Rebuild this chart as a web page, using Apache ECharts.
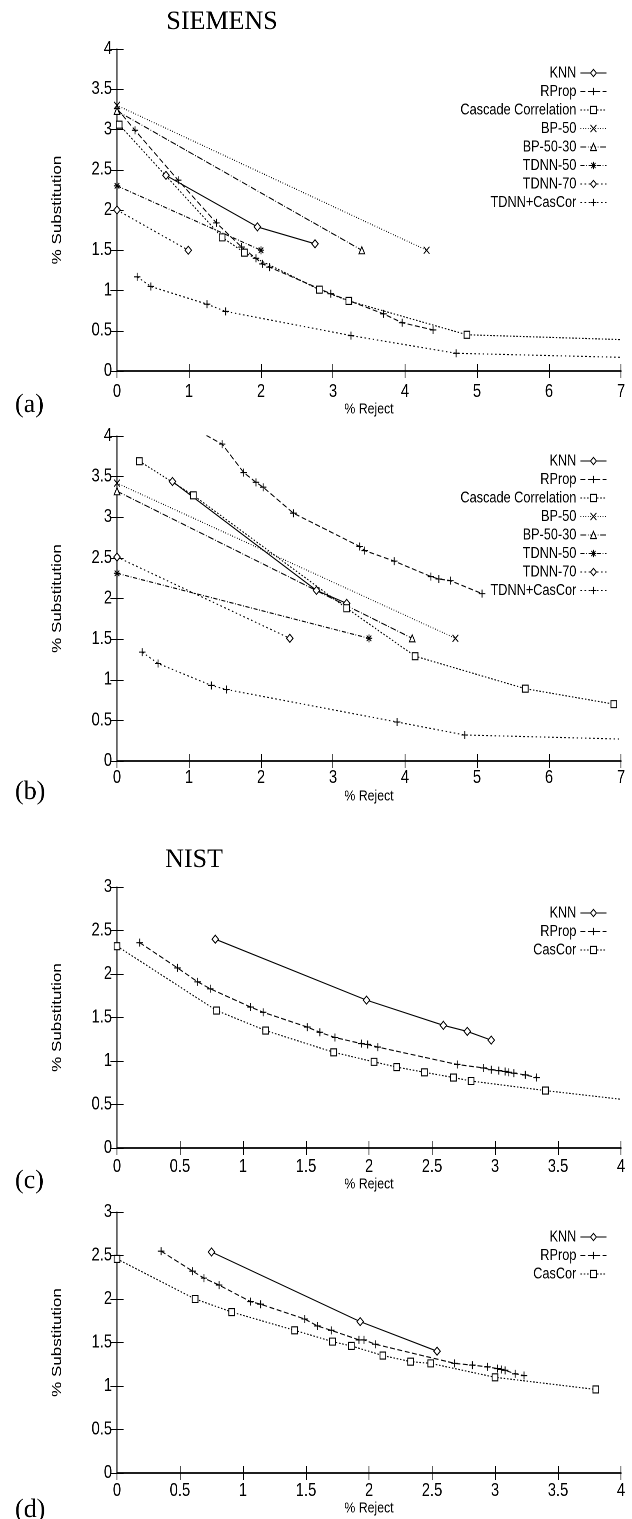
<!DOCTYPE html>
<html>
<head>
<meta charset="utf-8">
<script src="https://cdn.jsdelivr.net/npm/echarts@6/dist/echarts.min.js"></script>
<style>
  html, body { margin: 0; padding: 0; background: #fff; overflow: hidden; }
  #wrap { width: 632px; height: 1519px; overflow: hidden; }
  /* the original figure is squeezed horizontally: draw wide, then compress */
  #main { width: 770px; height: 1519px; transform: scaleX(0.820779); transform-origin: 0 0; }
</style>
</head>
<body>
<div id="wrap"><div id="main"></div></div>
<script>
// --- (a) SIEMENS, first set ---
const aKNN = [[0.68, 2.43], [1.95, 1.79], [2.75, 1.58]];
const aRProp = [[0, 3.26], [0.25, 2.99], [0.85, 2.37], [1.38, 1.84], [1.73, 1.54], [1.93, 1.40], [2.02, 1.33], [2.12, 1.29], [2.97, 0.96], [3.70, 0.71], [3.96, 0.60], [4.39, 0.51]];
const aCasCor = [[0.03, 3.06], [1.46, 1.66], [1.77, 1.47], [2.81, 1.01], [3.22, 0.87], [4.86, 0.45]];
const aCasCorEnd = [7, 0.39];
const aBP50 = [[0, 3.30], [4.30, 1.50]];
const aBP5030 = [[0, 3.23], [3.40, 1.50]];
const aTDNN50 = [[0, 2.30], [2.00, 1.50]];
const aTDNN70 = [[0, 2.00], [0.99, 1.50]];
const aTDNNCas = [[0.28, 1.17], [0.47, 1.05], [1.25, 0.83], [1.51, 0.74], [3.25, 0.44], [4.71, 0.22]];
const aTDNNCasEnd = [7, 0.17];

// --- (b) SIEMENS, second set ---
const bKNN = [[0.77, 3.44], [2.77, 2.10], [3.19, 1.94]];
const bRProp = [[1.05, 4.10], [1.46, 3.90], [1.76, 3.55], [1.93, 3.43], [2.03, 3.37], [2.45, 3.05], [3.37, 2.64], [3.44, 2.59], [3.85, 2.46], [4.36, 2.27], [4.47, 2.24], [4.63, 2.22], [5.07, 2.06]];
const bCasCor = [[0.31, 3.69], [1.06, 3.27], [3.19, 1.88], [4.14, 1.29], [5.67, 0.89], [6.90, 0.70]];
const bBP50 = [[0, 3.42], [4.70, 1.51]];
const bBP5030 = [[0, 3.32], [4.10, 1.51]];
const bTDNN50 = [[0, 2.31], [3.50, 1.51]];
const bTDNN70 = [[0, 2.51], [2.40, 1.51]];
const bTDNNCas = [[0.35, 1.34], [0.57, 1.20], [1.31, 0.93], [1.52, 0.88], [3.89, 0.48], [4.83, 0.32]];
const bTDNNCasEnd = [7, 0.27];

// --- (c) NIST, first set ---
const cKNN = [[0.78, 2.40], [1.98, 1.70], [2.59, 1.41], [2.78, 1.34], [2.97, 1.24]];
const cRProp = [[0.18, 2.36], [0.48, 2.07], [0.64, 1.91], [0.74, 1.83], [1.06, 1.62], [1.16, 1.56], [1.51, 1.39], [1.61, 1.33], [1.73, 1.27], [1.94, 1.20], [1.99, 1.19], [2.07, 1.16], [2.70, 0.96], [2.91, 0.92], [2.97, 0.90], [3.03, 0.89], [3.08, 0.88], [3.11, 0.87], [3.15, 0.86], [3.24, 0.84], [3.33, 0.81]];
const cCasCor = [[0, 2.32], [0.79, 1.58], [1.18, 1.35], [1.72, 1.10], [2.04, 0.99], [2.22, 0.93], [2.44, 0.87], [2.67, 0.81], [2.81, 0.77], [3.40, 0.66]];
const cCasCorEnd = [4, 0.56];

// --- (d) NIST, second set ---
const dKNN = [[0.75, 2.54], [1.93, 1.74], [2.54, 1.40]];
const dRProp = [[0.35, 2.55], [0.60, 2.32], [0.69, 2.24], [0.81, 2.16], [1.06, 1.97], [1.14, 1.94], [1.49, 1.77], [1.59, 1.69], [1.70, 1.64], [1.92, 1.53], [1.96, 1.53], [2.05, 1.48], [2.68, 1.26], [2.82, 1.24], [2.94, 1.22], [3.02, 1.20], [3.05, 1.19], [3.08, 1.18], [3.16, 1.14], [3.23, 1.12]];
const dCasCor = [[0, 2.46], [0.62, 2.00], [0.91, 1.85], [1.41, 1.64], [1.71, 1.51], [1.86, 1.46], [2.11, 1.35], [2.33, 1.28], [2.49, 1.26], [3.00, 1.10], [3.80, 0.96]];

const siemensNames = ['KNN', 'RProp', 'Cascade Correlation', 'BP-50', 'BP-50-30', 'TDNN-50', 'TDNN-70', 'TDNN+CasCor'];
const nistNames = ['KNN', 'RProp', 'CasCor'];
const siemensXTicks = [0, 7, 1];
const nistXTicks = [0, 4, 0.5];

// horizontal squeeze of the page; chart is laid out in the wide space
const SX = 632 / 770;
const wx = v => v / SX;

// gnuplot-like markers, stroked 1px
const DIAMOND = 'path://M5,0L10,5L5,10L0,5Z';
const SQUARE = 'path://M0,0L10,0L10,10L0,10Z';
const TRI = 'path://M5,0L10,9L0,9Z';
const PLUS = 'path://M0,5L10,5M5,0L5,10';
const CROSS = 'path://M0,0L10,10M0,10L10,0';
const STAR = 'path://M0,5L10,5M5,0L5,10M1.5,1.5L8.5,8.5M1.5,8.5L8.5,1.5';

const looks = {
    'KNN': { sym: DIAMOND, size: 8, dash: 'solid' },
    'RProp': { sym: PLUS, size: 8, dash: [6, 3] },
    'Cascade Correlation': { sym: SQUARE, size: 7, dash: [2, 2] },
    'CasCor': { sym: SQUARE, size: 7, dash: [2, 2] },
    'BP-50': { sym: CROSS, size: 7, dash: [1, 2] },
    'BP-50-30': { sym: TRI, size: 7, dash: [7, 2, 1, 2] },
    'TDNN-50': { sym: STAR, size: 8, dash: [5, 2, 1, 2] },
    'TDNN-70': { sym: DIAMOND, size: 8, dash: [2, 3] },
    'TDNN+CasCor': { sym: PLUS, size: 8, dash: [2, 3] }
};

const SANS = "'Liberation Sans', Arial, sans-serif";
const SERIF = "'Liberation Serif', 'DejaVu Serif', serif";

const grids = [
    { left: wx(117), top: 49, width: wx(504), height: 322 },
    { left: wx(117), top: 436, width: wx(504), height: 325 },
    { left: wx(117), top: 887, width: wx(504), height: 261 },
    { left: wx(117), top: 1212, width: wx(504), height: 261 }
];
const labelMargins = [12, 8, 10, 9];
const nameGaps = [31, 28, 29, 28];
const yMax = [4, 4, 3, 3];

const xAxes = [], yAxes = [];
grids.forEach((g, i) => {
    const xt = i < 2 ? siemensXTicks : nistXTicks;
    const common = { type: 'value', gridIndex: i, min: xt[0], max: xt[1], interval: xt[2], splitLine: { show: false } };
    xAxes.push({
        ...common, position: 'bottom',
        name: '% Reject', nameLocation: 'middle', nameGap: nameGaps[i],
        nameTextStyle: { fontFamily: SANS, fontSize: 15, color: '#000' },
        axisLine: { show: true, lineStyle: { color: '#000', width: 1.5 } },
        axisTick: { inside: true, length: 7, lineStyle: { color: '#000' } },
        axisLabel: { margin: labelMargins[i], fontFamily: SANS, fontSize: 18, color: '#000' }
    });
    xAxes.push({
        ...common, position: 'top',
        axisLine: { show: true, lineStyle: { color: '#000', width: 1.5 } },
        axisTick: { inside: true, length: 7, lineStyle: { color: '#000' } },
        axisLabel: { show: false }
    });
    const ycommon = { type: 'value', gridIndex: i, min: 0, max: yMax[i], interval: 0.5, splitLine: { show: false } };
    yAxes.push({
        ...ycommon, position: 'left',
        name: '% Substitution', nameLocation: 'middle', nameGap: 64,
        nameTextStyle: { fontFamily: SANS, fontSize: 17, color: '#000' },
        axisLine: { show: true, lineStyle: { color: '#000', width: 1.2 } },
        axisTick: { inside: true, length: 8, lineStyle: { color: '#000' } },
        axisLabel: { margin: 6, fontFamily: SANS, fontSize: 18, color: '#000' }
    });
    yAxes.push({
        ...ycommon, position: 'right',
        axisLine: { show: true, lineStyle: { color: '#000', width: 1.2 } },
        axisTick: { inside: true, length: 8, lineStyle: { color: '#000' } },
        axisLabel: { show: false }
    });
});

function curve(name, pts, gi, end) {
    const lk = looks[name];
    const data = pts.slice();
    if (end) data.push({ value: end, symbol: 'none' });
    return {
        name, type: 'line', xAxisIndex: gi * 2, yAxisIndex: gi * 2, data,
        symbol: lk.sym, symbolSize: lk.size,
        lineStyle: { color: '#000', width: 1.1, type: lk.dash },
        itemStyle: { color: '#fff', borderColor: '#000', borderWidth: 1.1 },
        emphasis: { disabled: true }
    };
}

const series = [
    curve('KNN', aKNN, 0), curve('RProp', aRProp, 0), curve('Cascade Correlation', aCasCor, 0, aCasCorEnd),
    curve('BP-50', aBP50, 0), curve('BP-50-30', aBP5030, 0), curve('TDNN-50', aTDNN50, 0),
    curve('TDNN-70', aTDNN70, 0), curve('TDNN+CasCor', aTDNNCas, 0, aTDNNCasEnd),
    curve('KNN', bKNN, 1), curve('RProp', bRProp, 1), curve('Cascade Correlation', bCasCor, 1),
    curve('BP-50', bBP50, 1), curve('BP-50-30', bBP5030, 1), curve('TDNN-50', bTDNN50, 1),
    curve('TDNN-70', bTDNN70, 1), curve('TDNN+CasCor', bTDNNCas, 1, bTDNNCasEnd),
    curve('KNN', cKNN, 2), curve('RProp', cRProp, 2), curve('CasCor', cCasCor, 2, cCasCorEnd),
    curve('KNN', dKNN, 3), curve('RProp', dRProp, 3), curve('CasCor', dCasCor, 3)
];

function legendAt(names, top) {
    return {
        orient: 'vertical', align: 'right', right: wx(21), top,
        itemWidth: wx(26), itemHeight: 9, itemGap: 2.5,
        selectedMode: false,
        textStyle: { fontFamily: SANS, fontSize: 15.5, color: '#000' },
        data: names.map(n => ({
            name: n,
            lineStyle: { color: '#000', width: 1.1, type: looks[n].dash },
            itemStyle: { color: '#fff', borderColor: '#000', borderWidth: 1.1 }
        }))
    };
}

// serif captions sit outside the squeezed figure, so undo the squeeze on them
function caption(text, x, y, align) {
    return {
        type: 'text', x: wx(x), y, scaleX: 1 / SX,
        style: { text, fill: '#000', font: '26px ' + SERIF, textAlign: align || 'left', textVerticalAlign: 'middle' }
    };
}

const chart = echarts.init(document.getElementById('main'), null, { devicePixelRatio: 2 });
chart.setOption({
    animation: false,
    backgroundColor: '#fff',
    grid: grids.map(g => ({ ...g, containLabel: false, outerBoundsMode: 'none' })),
    xAxis: xAxes,
    yAxis: yAxes,
    legend: [legendAt(siemensNames, 60), legendAt(siemensNames, 448), legendAt(nistNames, 900), legendAt(nistNames, 1224)],
    graphic: [
        caption('SIEMENS', 222, 22, 'center'),
        caption('NIST', 194, 860, 'center'),
        caption('(a)', 15, 405), caption('(b)', 15, 792), caption('(c)', 15, 1181), caption('(d)', 15, 1510)
    ],
    series
});
window.onresize = () => chart.resize();
</script>
</body>
</html>
